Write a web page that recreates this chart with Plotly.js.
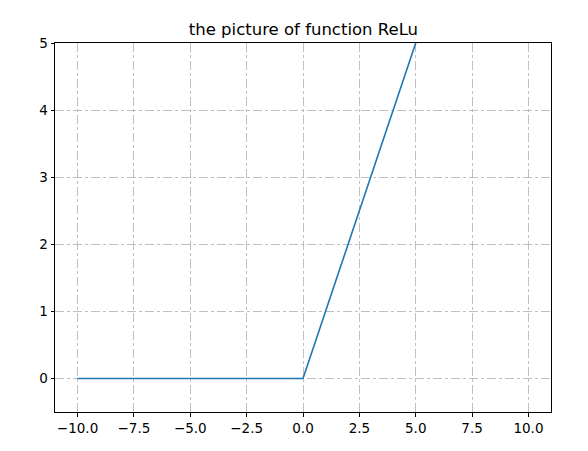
<!DOCTYPE html>
<html>
<head>
<meta charset="utf-8">
<script src="https://cdn.plot.ly/plotly-3.0.1.min.js"></script>
<style>html,body{margin:0;padding:0;background:#fff}#chart{width:588px;height:451px}</style>
</head>
<body>
<div id="chart"></div>
<script>
const xValues = [-10, 0, 10];
const yValues = [0, 0, 10];
const xTicks = [-10, -7.5, -5, -2.5, 0, 2.5, 5, 7.5, 10];
const xTickLabels = ["\u221210.0", "\u22127.5", "\u22125.0", "\u22122.5", "0.0", "2.5", "5.0", "7.5", "10.0"];
const yTicks = [0, 1, 2, 3, 4, 5];
const yTickLabels = ["0", "1", "2", "3", "4", "5"];

const axisCommon = {
  showline: true, mirror: true, linecolor: '#000', linewidth: 1,
  ticks: 'outside', ticklen: 3.5, tickwidth: 1, tickcolor: '#000',
  showgrid: true, gridcolor: '#b0b0b0', griddash: 'dashdot', gridwidth: 0.8,
  zeroline: false, tickfont: {family: 'DejaVu Sans', size: 13.5, color: '#000'}
};

Plotly.newPlot('chart', [{
  x: xValues, y: yValues, type: 'scatter', mode: 'lines',
  line: {color: '#1f77b4', width: 1.6}, cliponaxis: true
}], {
  width: 588, height: 451,
  margin: {l: 55, r: 37, t: 43, b: 39},
  paper_bgcolor: '#fff', plot_bgcolor: '#fff',
  showlegend: false,
  title: {text: 'the picture of function ReLu', font: {family: 'DejaVu Sans', size: 16.5, color: '#000'}, x: 0.516, xanchor: 'center', y: 0.936, yanchor: 'middle'},
  xaxis: Object.assign({}, axisCommon, {range: [-11, 11], tickvals: xTicks, ticktext: xTickLabels}),
  yaxis: Object.assign({}, axisCommon, {range: [-0.5, 5], tickvals: yTicks, ticktext: yTickLabels})
}, {staticPlot: true});
</script>
</body>
</html>
